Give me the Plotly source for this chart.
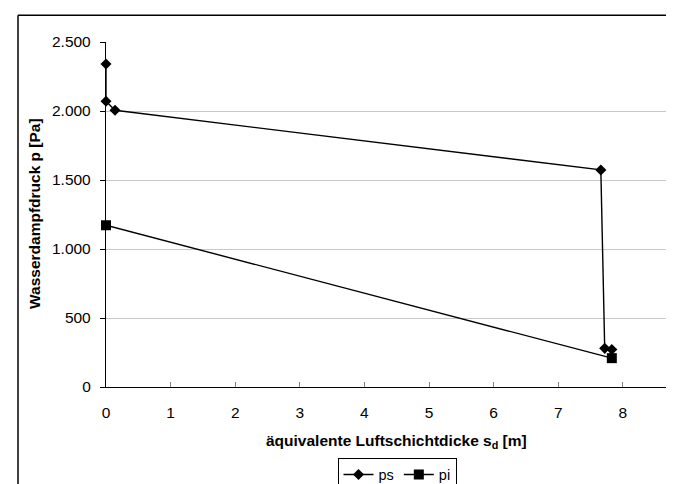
import plotly.graph_objects as go

# data
sd_ps = [0, 0, 0.14, 7.66, 7.72, 7.83]
ps = [2340, 2070, 2005, 1573, 280, 272]
sd_pi = [0, 7.83]
pi = [1172, 209]
y_tick_vals = [0, 500, 1000, 1500, 2000, 2500]
y_tick_text = ["0", "500", "1.000", "1.500", "2.000", "2.500"]
x_tick_vals = [0, 1, 2, 3, 4, 5, 6, 7, 8]

W, H = 674, 484
L, R, T, B = 98, 0, 34, 103
pw, ph = W - L - R, H - T - B

def px(xp):
    return (xp - L) / pw

def py(yp):
    return (H - B - yp) / ph

FONT = "Liberation Sans, Arial, sans-serif"
FS = 15.5

fig = go.Figure()
fig.add_trace(go.Scatter(
    x=sd_ps, y=ps, name="ps", mode="lines+markers",
    line=dict(color="black", width=1.4),
    marker=dict(symbol="diamond", size=8.5, color="black"),
    cliponaxis=False,
))
fig.add_trace(go.Scatter(
    x=sd_pi, y=pi, name="pi", mode="lines+markers",
    line=dict(color="black", width=1.4),
    marker=dict(symbol="square", size=10, color="black"),
    cliponaxis=False,
))

fig.update_layout(
    width=W, height=H,
    margin=dict(l=L, r=R, t=T, b=B, pad=0),
    paper_bgcolor="white", plot_bgcolor="white",
    font=dict(family=FONT, size=FS, color="black"),
    showlegend=True,
    legend=dict(
        orientation="h", x=px(389), xanchor="center", y=py(452), yanchor="top",
        bordercolor="black", borderwidth=1, bgcolor="white",
        font=dict(size=14.5), itemwidth=30, tracegroupgap=0,
        entrywidthmode="pixels",
    ),
    xaxis=dict(
        range=[0, pw / 64.6], tickvals=x_tick_vals,
        showgrid=False, zeroline=False,
        showline=True, linecolor="black", linewidth=1.3,
        ticks="inside", ticklen=5, tickcolor="#808080", tickwidth=1,
        ticklabelstandoff=11,
        tickfont=dict(size=FS),
    ),
    yaxis=dict(
        range=[0, 2500], tickvals=y_tick_vals, ticktext=y_tick_text,
        showgrid=True, gridcolor="#c8c8c8", gridwidth=1, zeroline=False,
        showline=True, linecolor="black", linewidth=1.3,
        ticks="outside", ticklen=5, tickcolor="black", tickwidth=1,
        ticklabelstandoff=6,
        tickfont=dict(size=FS),
    ),
    annotations=[
        dict(text="<b>äquivalente Luftschichtdicke s<sub>d</sub> [m]</b>",
             xref="paper", yref="paper", x=px(388), y=py(436),
             xanchor="center", yanchor="middle", showarrow=False,
             font=dict(size=FS)),
        dict(text="<b>Wasserdampfdruck p [Pa]</b>",
             xref="paper", yref="paper", x=px(26), y=py(207),
             xanchor="center", yanchor="middle", showarrow=False,
             textangle=-90, font=dict(size=FS)),
    ],
    shapes=[
        dict(type="line", xref="paper", yref="paper",
             x0=px(10), x1=px(10), y0=py(7), y1=py(490),
             line=dict(color="black", width=1.5)),
        dict(type="line", xref="paper", yref="paper",
             x0=px(10), x1=px(680), y0=py(7), y1=py(7),
             line=dict(color="black", width=1.5)),
    ],
)

fig.write_html("out.html")
